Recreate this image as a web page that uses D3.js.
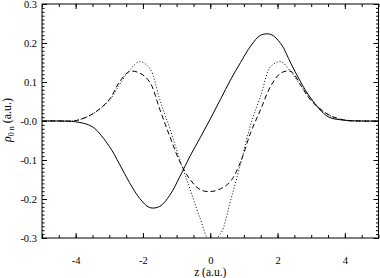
<!DOCTYPE html>
<html>
<head>
<meta charset="utf-8">
<script src="https://d3js.org/d3.v7.min.js"></script>
<style>
  body { margin: 0; background: #fff; }
</style>
</head>
<body>
<div id="chart"></div>
<script>
// sample positions along z (a.u.)
var zValues = [-5, -4.5, -4, -3.5, -3, -2.7, -2.4, -2.1, -1.8, -1.5, -1.2, -0.9, -0.6, -0.3, 0,
               0.3, 0.6, 0.9, 1.2, 1.5, 1.8, 2.1, 2.4, 2.7, 3, 3.5, 4, 4.5, 5];

// solid curve
var solidValues = [0, 0, -0.002, -0.015, -0.065, -0.11, -0.158, -0.198, -0.222, -0.219, -0.19, -0.142, -0.09, -0.043, 0.005,
                   0.055, 0.105, 0.15, 0.192, 0.22, 0.222, 0.198, 0.147, 0.098, 0.057, 0.011, 0.002, 0, 0];
// dotted curve
var dottedValues = [0, 0, 0.001, 0.018, 0.053, 0.093, 0.13, 0.152, 0.135, 0.055, -0.02, -0.1, -0.175, -0.25, -0.31,
                    -0.29, -0.205, -0.11, -0.01, 0.065, 0.14, 0.152, 0.125, 0.09, 0.055, 0.016, 0.002, 0, 0];
// dashed curve
var dashedValues = [0, 0, 0.001, 0.018, 0.055, 0.1, 0.127, 0.123, 0.1, 0.03, -0.04, -0.105, -0.15, -0.176, -0.181,
                    -0.174, -0.155, -0.105, -0.03, 0.03, 0.09, 0.123, 0.127, 0.09, 0.052, 0.017, 0.002, 0, 0];

var xMajorTicks = [-4, -2, 0, 2, 4];
var yMajorTicks = [-0.3, -0.2, -0.1, 0, 0.1, 0.2, 0.3];
var yTickLabels = ["-0.3", "-0.2", "-0.1", "-0.0", "0.1", "0.2", "0.3"];

var FONT = "'Liberation Serif', 'Times New Roman', Times, serif";
var W = 380, H = 278;
var margin = {top: 4, right: 1.5, bottom: 40, left: 42};
var width = W - margin.left - margin.right,
    height = H - margin.top - margin.bottom;

var svg = d3.select("#chart").append("svg")
    .attr("width", W).attr("height", H);
var g = svg.append("g")
    .attr("transform", "translate(" + margin.left + "," + margin.top + ")");

var x = d3.scaleLinear().domain([-5, 5]).range([0, width]);
var y = d3.scaleLinear().domain([-0.3, 0.3]).range([height, 0]);

var xMinor = d3.range(-5, 5.001, 0.5).map(function(v) { return +v.toFixed(2); });
var yMinor = d3.range(-0.3, 0.3001, 0.01).map(function(v) { return +v.toFixed(3); });

// minor ticks (all four sides, pointing inward)
function minor(axis, vals, size) {
    return axis.tickValues(vals).tickSize(-size).tickFormat("");
}
g.append("g").attr("transform", "translate(0," + height + ")").call(minor(d3.axisBottom(x), xMinor, 3));
g.append("g").call(minor(d3.axisTop(x), xMinor, 3));
g.append("g").call(minor(d3.axisLeft(y), yMinor, 2.5));
g.append("g").attr("transform", "translate(" + width + ",0)").call(minor(d3.axisRight(y), yMinor, 2.5));

// major ticks
g.append("g").attr("class", "xaxis")
    .attr("transform", "translate(0," + height + ")")
    .call(d3.axisBottom(x).tickValues(xMajorTicks).tickSize(-5).tickPadding(19)
        .tickFormat(function(d) { return d; }));
g.append("g").call(d3.axisTop(x).tickValues(xMajorTicks).tickSize(-5).tickFormat(""));
g.append("g").attr("class", "yaxis")
    .call(d3.axisLeft(y).tickValues(yMajorTicks).tickSize(-5).tickPadding(5)
        .tickFormat(function(d, i) { return yTickLabels[i]; }));
g.append("g").attr("transform", "translate(" + width + ",0)")
    .call(d3.axisRight(y).tickValues(yMajorTicks).tickSize(-5).tickFormat(""));

g.selectAll(".domain").remove();
g.selectAll(".tick line").attr("stroke", "#000").attr("stroke-width", 1);
g.selectAll(".xaxis text, .yaxis text")
    .style("font-family", FONT).style("font-size", "10.5px").attr("fill", "#000");

// frame
g.append("rect").attr("width", width).attr("height", height)
    .attr("fill", "none").attr("stroke", "#000").attr("stroke-width", 1);

// curves
g.append("clipPath").attr("id", "clip")
    .append("rect").attr("width", width).attr("height", height);

var line = d3.line()
    .x(function(d, i) { return x(zValues[i]); })
    .y(function(d) { return y(d); })
    .curve(d3.curveCatmullRom.alpha(0.5));

var series = [
    {values: solidValues, dash: null},
    {values: dottedValues, dash: "1,2"},
    {values: dashedValues, dash: "5,3"}
];
g.append("g").attr("clip-path", "url(#clip)")
  .selectAll("path.curve").data(series).enter().append("path")
    .attr("class", "curve")
    .attr("d", function(s) { return line(s.values); })
    .attr("fill", "none")
    .attr("stroke", "#000")
    .attr("stroke-width", 1)
    .attr("stroke-dasharray", function(s) { return s.dash; });

// axis titles
svg.append("text")
    .attr("x", margin.left + x(0)).attr("y", 275.5)
    .attr("text-anchor", "middle")
    .style("font-family", FONT).style("font-size", "11.5px")
    .text("z (a.u.)");

var yt = svg.append("text")
    .attr("transform", "translate(11,120) rotate(-90)")
    .attr("text-anchor", "middle")
    .style("font-family", FONT).style("font-size", "12px");
yt.append("tspan").style("font-style", "italic").text("ρ");
yt.append("tspan").attr("dy", 3).style("font-size", "8px").text("0 n");
yt.append("tspan").attr("dy", -3).text(" (a.u.)");
</script>
</body>
</html>
